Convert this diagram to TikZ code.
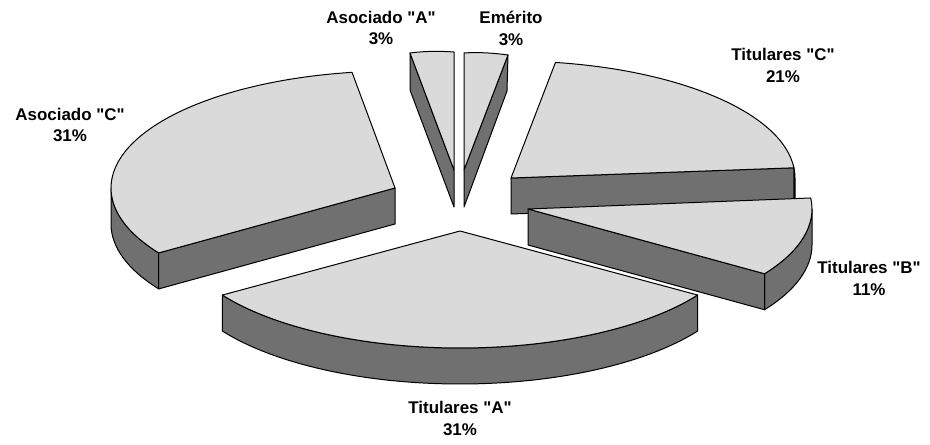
\documentclass[tikz,border=0pt]{standalone}
\usepackage{fontspec}
\setmainfont{Liberation Sans}[Ligatures=TeXOff]
\definecolor{lightface}{RGB}{218,218,218}
\definecolor{darkface}{RGB}{112,112,112}
\begin{document}
\begin{tikzpicture}[x=1bp,y=-1bp,
  topface/.style={fill=lightface,draw=black,line width=1bp,line join=round},
  sideface/.style={fill=darkface,draw=black,line width=1bp,line join=round},
  lbl/.style={font=\fontsize{17}{22}\selectfont\bfseries,align=center,inner sep=0pt}]
\useasboundingbox (0,0) rectangle (930,445);

% Asociado "A"
\coordinate (cAA) at (454,170);
\filldraw[sideface] (410,53) -- (cAA) -- (454,207) -- (410,90) -- cycle;
\filldraw[topface] (410,53) .. controls (425,51) and (440,51) .. (454,52) -- (cAA) -- cycle;

% Emerito
\coordinate (cEM) at (464,170);
\filldraw[sideface] (508,55) -- (cEM) -- (464,207) -- (507,91) -- cycle;
\filldraw[topface] (464,53) .. controls (478,52) and (494,53) .. (508,55) -- (cEM) -- cycle;

% Titulares "C"
\coordinate (cTC) at (511,178);
\filldraw[sideface] (cTC) ++(355:284 and 117) arc[start angle=355,end angle=360,x radius=284,y radius=117]
   -- ++(0,36) arc[start angle=360,end angle=355,x radius=284,y radius=117] -- cycle;
\filldraw[sideface] (cTC) -- ++(355:284 and 117) -- ++(0,36) -- (511,214) -- cycle;
\filldraw[topface] (cTC) -- ++(279:284 and 117) arc[start angle=279,end angle=355,x radius=284,y radius=117] -- cycle;

% Asociado "C"
\coordinate (cAC) at (395,188);
\filldraw[sideface] (cAC) ++(146.3:284 and 117) arc[start angle=146.3,end angle=180,x radius=284,y radius=117]
   -- ++(0,36) arc[start angle=180,end angle=146.3,x radius=284,y radius=117] -- cycle;
\filldraw[sideface] (cAC) -- ++(146.3:284 and 117) -- ++(0,36) -- (395,224) -- cycle;
\filldraw[topface] (cAC) -- ++(146.3:284 and 117) arc[start angle=146.3,end angle=261.3,x radius=284,y radius=117] -- cycle;

% Titulares "B"
\coordinate (cTB) at (528,209);
\filldraw[sideface] (cTB) ++(0:284 and 117) arc[start angle=0,end angle=33.6,x radius=284,y radius=117]
   -- ++(0,36) arc[start angle=33.6,end angle=0,x radius=284,y radius=117] -- cycle;
\filldraw[sideface] (cTB) -- ++(33.6:284 and 117) -- ++(0,36) -- (528,245) -- cycle;
\filldraw[topface] (cTB) -- ++(-5.4:284 and 117) arc[start angle=-5.4,end angle=33.6,x radius=284,y radius=117] -- cycle;

% Titulares "A"
\coordinate (cTA) at (460,231);
\filldraw[sideface] (cTA) ++(146.8:284 and 117) arc[start angle=146.8,end angle=33.2,x radius=284,y radius=117]
   -- ++(0,36) arc[start angle=33.2,end angle=146.8,x radius=284,y radius=117] -- cycle;
\filldraw[topface] (cTA) -- ++(146.8:284 and 117) arc[start angle=146.8,end angle=33.2,x radius=284,y radius=117] -- cycle;

% Labels
\node[lbl] (lAA) at (381,28) {Asociado "A"\\3\%};
\node[lbl] (lEM) at (511,28) {Emérito\\3\%};
\node[lbl] (lTC) at (783,65) {Titulares "C"\\21\%};
\node[lbl] (lAC) at (70,125) {Asociado "C"\\31\%};
\node[lbl] (lTB) at (869,278) {Titulares "B"\\11\%};
\node[lbl] (lTA) at (460,418) {Titulares "A"\\31\%};
\end{tikzpicture}
\end{document}
